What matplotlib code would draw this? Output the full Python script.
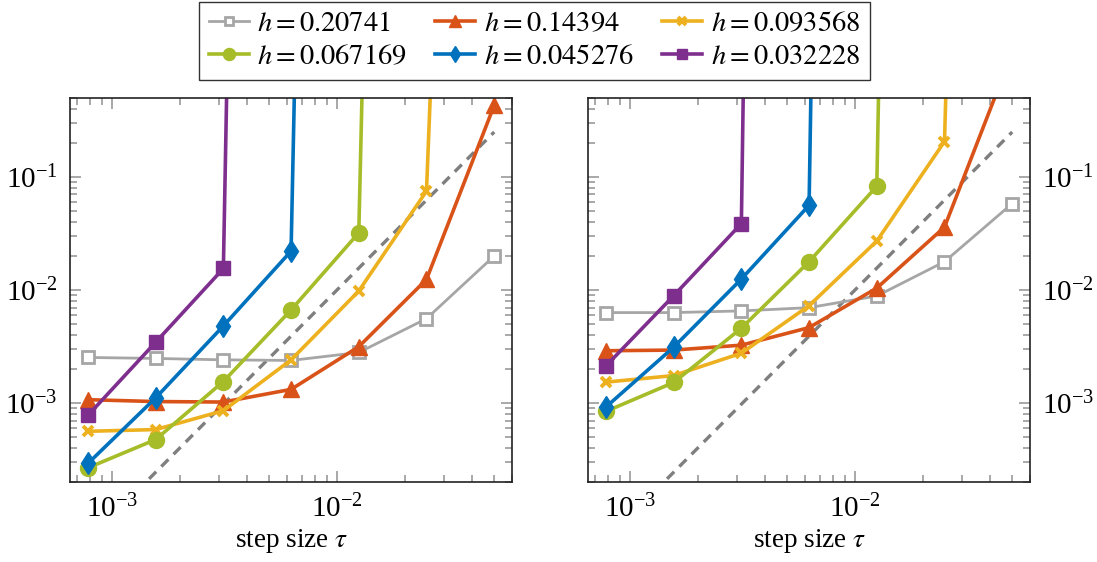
import numpy as np
import matplotlib
matplotlib.use("Agg")
import matplotlib.pyplot as plt

plt.rcParams['font.family'] = ['Liberation Serif', 'DejaVu Serif']
plt.rcParams['mathtext.fontset'] = 'stix'
plt.rcParams['font.size'] = 19.5

# step sizes tau
tau = [7.8125e-4, 1.5625e-3, 3.125e-3, 6.25e-3, 1.25e-2, 2.5e-2, 5e-2]
labels = [r"$h = 0.20741$", r"$h = 0.14394$", r"$h = 0.093568$",
          r"$h = 0.067169$", r"$h = 0.045276$", r"$h = 0.032228$"]
colors = ['#A6A6A6', '#D95319', '#EDB120', '#A6BC28', '#0072BD', '#7E2F8E']

# left panel errors (huge values = blow-up, leaves the plot)
left_h1 = [2.53e-3, 2.48e-3, 2.41e-3, 2.38e-3, 2.80e-3, 5.58e-3, 2.0e-2]
left_h2 = [1.07e-3, 1.03e-3, 1.02e-3, 1.32e-3, 3.15e-3, 1.24e-2, 0.43]
left_h3 = [5.62e-4, 5.82e-4, 8.55e-4, 2.41e-3, 9.8e-3, 7.5e-2, 1e14]
left_h4 = [2.67e-4, 4.75e-4, 1.55e-3, 6.66e-3, 3.21e-2, 1e24]
left_h5 = [2.92e-4, 1.11e-3, 4.81e-3, 2.21e-2, 1e27]
left_h6 = [7.78e-4, 3.45e-3, 1.55e-2, 1e30]

# right panel errors
right_h1 = [6.31e-3, 6.31e-3, 6.53e-3, 6.98e-3, 8.85e-3, 1.78e-2, 5.82e-2]
right_h2 = [2.90e-3, 2.94e-3, 3.25e-3, 4.65e-3, 1.04e-2, 3.6e-2, 1.26]
right_h3 = [1.53e-3, 1.75e-3, 2.76e-3, 7.27e-3, 2.71e-2, 0.206, 1e20]
right_h4 = [8.43e-4, 1.52e-3, 4.59e-3, 1.78e-2, 8.28e-2, 1e30]
right_h5 = [9.22e-4, 3.12e-3, 1.25e-2, 5.62e-2, 1e35]
right_h6 = [2.13e-3, 8.9e-3, 3.87e-2, 1e40]

# order-2 reference line
ref_c = 100.0

styles = [
    dict(marker='s', ms=8.5, mfc='white', mew=2.0, lw=2.0),
    dict(marker='^', ms=11.5, lw=2.6),
    dict(marker='x', ms=7, mew=2.8, lw=2.6),
    dict(marker='o', ms=11.5, lw=2.6),
    dict(marker='d', ms=11.5, lw=2.6),
    dict(marker='s', ms=10.5, lw=2.6),
]

fig = plt.figure(figsize=(10.97, 5.62), dpi=100)
ax1 = fig.add_axes([70 / 1097, 1 - 482 / 562, 442 / 1097, 384 / 562])
ax2 = fig.add_axes([588 / 1097, 1 - 482 / 562, 442 / 1097, 384 / 562])

series = [
    (ax1, [left_h1, left_h2, left_h3, left_h4, left_h5, left_h6]),
    (ax2, [right_h1, right_h2, right_h3, right_h4, right_h5, right_h6]),
]

tau_arr = np.array(tau)
for ax, data in series:
    ax.plot(tau_arr, ref_c * tau_arr ** 2, ls=(0, (3.0, 2.2)), color='#7F7F7F',
            lw=2.4, zorder=1)
    for err, lab, col, st in zip(data, labels, colors, styles):
        ax.plot(tau[:len(err)], err, color=col, mec=col, label=lab, **st)
    ax.set_xscale('log')
    ax.set_yscale('log')
    ax.set_xlim(6.5e-4, 0.06)
    ax.set_ylim(2e-4, 0.5)
    ax.set_xlabel(r"step size $\tau$", labelpad=3)
    ax.tick_params(which='both', direction='in', top=True, right=True,
                   color='#999999', width=1.2, labelsize=21)
    ax.tick_params(which='major', length=8, pad=9)
    ax.tick_params(which='minor', length=5)
    for sp in ax.spines.values():
        sp.set_linewidth(1.2)
        sp.set_color('#222222')

ax2.tick_params(labelleft=False, labelright=True)

# legend is filled row by row in the reference
handles, labs = ax1.get_legend_handles_labels()
order = [0, 3, 1, 4, 2, 5]
fig.legend([handles[i] for i in order], [labs[i] for i in order],
           loc='upper center', ncol=3,
           bbox_to_anchor=(534.5 / 1097, 1 - 2 / 562), borderaxespad=0,
           frameon=True, fancybox=False, edgecolor='#333333', framealpha=1,
           fontsize=20.5, handlelength=1.4, handletextpad=0.3,
           columnspacing=1.0, labelspacing=0.25, borderpad=0.33,
           markerscale=0.75)

fig.savefig("out.png", dpi=100)
